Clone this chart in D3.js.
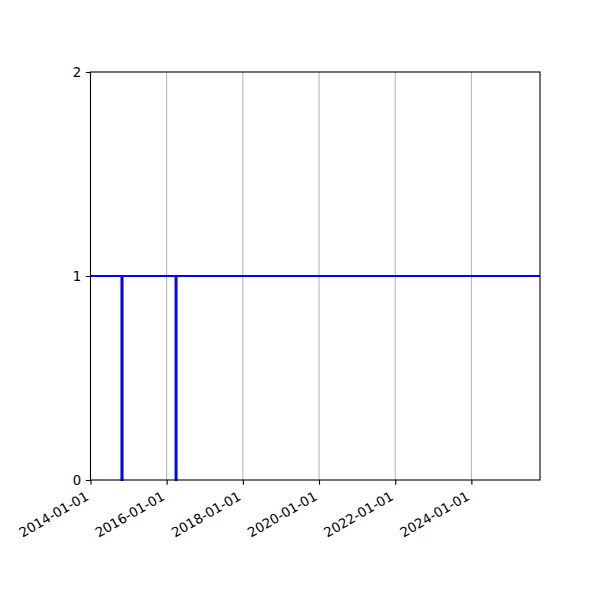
<!DOCTYPE html>
<html>
<head>
<meta charset="utf-8">
<script src="https://cdn.jsdelivr.net/npm/d3@7"></script>
<style>
  body { margin: 0; background: #fff; }
  text { font-family: "DejaVu Sans", sans-serif; font-size: 13.3px; fill: #000; }
</style>
</head>
<body>
<svg id="chart" width="600" height="600"></svg>
<script>
const parse = d3.timeParse('%Y-%m-%d');

// step series: value 1 with two short outages to 0
const dates = ['2014-01-01', '2014-10-25', '2014-10-25', '2014-11-04', '2014-11-04',
               '2016-03-27', '2016-03-27', '2016-04-05', '2016-04-05', '2025-10-20'];
const values = [1, 1, 0, 0, 1, 1, 0, 0, 1, 1];

const xDomain = ['2014-01-01', '2025-10-20'];
const yTicks = [0, 1, 2];
const xTicks = ['2014-01-01', '2016-01-01', '2018-01-01', '2020-01-01', '2022-01-01', '2024-01-01'];

const margin = {left: 90.5, right: 60, top: 72, bottom: 120};
const width = 600, height = 600;

const svg = d3.select('#chart');

const x = d3.scaleTime()
    .domain(xDomain.map(parse))
    .range([margin.left, width - margin.right]);

const y = d3.scaleLinear()
    .domain([0, 2])
    .range([height - margin.bottom, margin.top]);

// vertical grid
svg.append('g')
    .selectAll('line')
    .data(xTicks.map(parse))
    .join('line')
    .attr('x1', d => x(d)).attr('x2', d => x(d))
    .attr('y1', y(0)).attr('y2', y(2))
    .attr('stroke', '#b0b0b0')
    .attr('stroke-width', 1);

// series line
const pts = dates.map((d, i) => ({date: parse(d), value: values[i]}));
svg.append('path')
    .datum(pts)
    .attr('fill', 'none')
    .attr('stroke', '#0000ff')
    .attr('stroke-width', 2)
    .attr('d', d3.line().x(d => x(d.date)).y(d => y(d.value)));

// frame
svg.append('rect')
    .attr('x', x.range()[0]).attr('y', y(2))
    .attr('width', x.range()[1] - x.range()[0])
    .attr('height', y(0) - y(2))
    .attr('fill', 'none')
    .attr('stroke', '#000')
    .attr('stroke-width', 1.1);

// y axis
const yAxis = svg.append('g')
    .attr('transform', `translate(${margin.left},0)`)
    .call(d3.axisLeft(y).tickValues(yTicks).tickFormat(d3.format('d')).tickSize(4.7).tickPadding(4.5));
yAxis.select('.domain').remove();
yAxis.selectAll('line').attr('stroke', '#000').attr('stroke-width', 1.1);
yAxis.selectAll('text').attr('font-size', null).attr('font-family', null);

// x axis
const xAxis = svg.append('g')
    .attr('transform', `translate(0,${y(0)})`)
    .call(d3.axisBottom(x).tickValues(xTicks.map(parse)).tickFormat(d3.timeFormat('%Y-%m-%d')).tickSize(4.7));
xAxis.select('.domain').remove();
xAxis.selectAll('line').attr('stroke', '#000').attr('stroke-width', 1.1);
xAxis.selectAll('text')
    .attr('font-size', null).attr('font-family', null)
    .attr('y', 0).attr('dy', null)
    .attr('text-anchor', 'end')
    .attr('transform', 'translate(-1.5,19) rotate(-30)');
</script>
</body>
</html>
